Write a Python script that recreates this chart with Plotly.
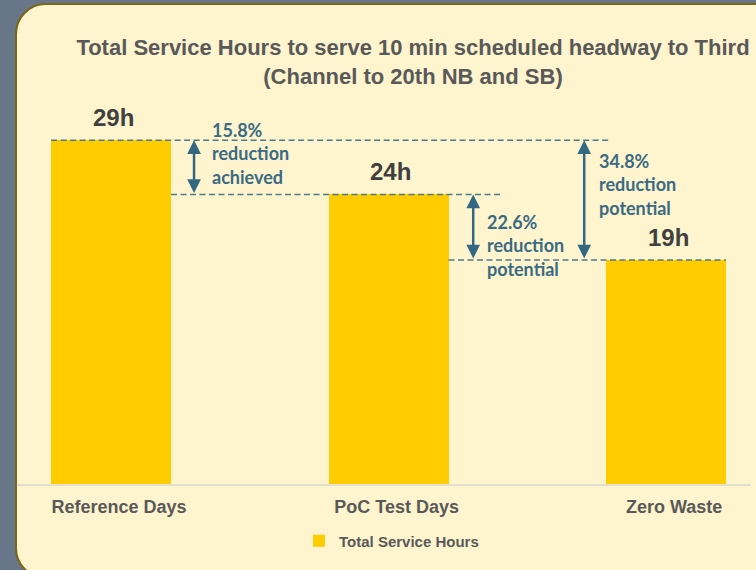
import plotly.graph_objects as go

# ---- data ----
categories = ["Reference Days", "PoC Test Days", "Zero Waste"]
service_hours = [29.0, 24.42, 18.9]
series_name = "Total Service Hours"
title_lines = ["Total Service Hours to serve 10 min scheduled headway to Third",
               "(Channel to 20th NB and SB)"]
reduction_words = ["reduction<br>achieved", "reduction<br>potential", "reduction<br>potential"]

W, H = 756, 570
def X(px):
    return px / W
def Y(py):
    return 1 - py / H

SLATE = "#677689"
CREAM = "#FEF5CE"
BORDER = "#7A6614"
YELLOW = "#FFCC00"
BLUE = "#3A6A84"
GREY = "#595959"

bar_w = 0.432

fig = go.Figure()
fig.add_trace(go.Bar(
    x=categories, y=service_hours, name=series_name,
    marker=dict(color=YELLOW, line=dict(width=0)),
    width=bar_w, showlegend=True, hoverinfo="skip",
))

# rounded panel
r = 30
k = 0.5523 * r
L, T, R_, B = 16, 4, 820, 578
path = (f"M {X(L)},{Y(T + r)} "
        f"C {X(L)},{Y(T + r - k)} {X(L + r - k)},{Y(T)} {X(L + r)},{Y(T)} "
        f"L {X(R_)},{Y(T)} L {X(R_)},{Y(B)} L {X(L + r)},{Y(B)} "
        f"C {X(L + r - k)},{Y(B)} {X(L)},{Y(B - r + k)} {X(L)},{Y(B - r)} Z")
shapes = [dict(type="path", xref="paper", yref="paper", path=path,
               fillcolor=CREAM, line=dict(color=BORDER, width=2), layer="below")]

ref, poc, zw = service_hours
# dashed guide lines (x in category units)
guides = [
    (0 - bar_w / 2, 1.791, ref),
    (0 + bar_w / 2, 1.402, poc),
    (1 + bar_w / 2, 2 + bar_w / 2, zw),
]
for x0, x1, yv in guides:
    shapes.append(dict(type="line", xref="x", yref="y", x0=x0, x1=x1, y0=yv, y1=yv,
                       line=dict(color="#4A7A8E", width=1.5, dash="6px,3.5px"),
                       layer="above"))

annotations = []
# arrows
arrows = [(0.299, ref, poc), (1.305, poc, zw), (1.705, ref, zw)]
for xa, ytop, ybot in arrows:
    annotations.append(dict(x=xa, y=ytop, ax=xa, ay=ybot, xref="x", yref="y",
                            axref="x", ayref="y", text="", showarrow=True,
                            arrowhead=2, arrowside="end+start", arrowsize=1.1,
                            arrowwidth=2.5, arrowcolor="#336882",
                            standoff=0, startstandoff=0))

# percentage labels
pcts = [1 - poc / ref, 1 - zw / poc, 1 - zw / ref]
label_pos = [(0.357, 27.9), (1.347, 20.15), (1.75, 25.3)]
for p, words, (xl, yl) in zip(pcts, reduction_words, label_pos):
    annotations.append(dict(x=xl, y=yl, xref="x", yref="y", xanchor="left",
                            yanchor="middle", align="left", showarrow=False,
                            text=f"{p * 100:.1f}%<br>{words}",
                            font=dict(family="Lato", size=18, color=BLUE, weight="bold")))

# value labels
for i, v in enumerate(service_hours):
    annotations.append(dict(x=i, y=v, xref="x", yref="y", yshift=22.5, xshift=2,
                            yanchor="middle", showarrow=False, text=f"{round(v)}h",
                            font=dict(family="Liberation Sans", size=24, color="#404040",
                                      weight="bold")))

fig.update_layout(
    width=W, height=H, autosize=False,
    margin=dict(l=0, r=0, t=0, b=0, pad=0),
    paper_bgcolor=SLATE, plot_bgcolor="rgba(0,0,0,0)",
    title=dict(text="<br>".join(title_lines), x=X(413), xref="paper", xanchor="center",
               y=Y(55), yref="container", yanchor="middle",
               font=dict(family="Liberation Sans", size=22, color=GREY, weight="bold")),
    xaxis=dict(domain=[X(17), X(751)], range=[-0.339, 2.306], type="category",
               showline=True, linecolor="#E3DED0", linewidth=2, showgrid=False,
               zeroline=False, ticks="", ticklabelstandoff=5, ticklabelshift=8,
               tickfont=dict(family="Liberation Sans", size=18, color=GREY, weight="bold")),
    yaxis=dict(domain=[1 - 484 / H, 1 - 69 / H], range=[0, 35], visible=False,
               showgrid=False, zeroline=False),
    legend=dict(orientation="h", x=X(299), xanchor="left", y=Y(541), yanchor="middle",
                itemwidth=30, bgcolor="rgba(0,0,0,0)",
                font=dict(family="Liberation Sans", size=15, color=GREY, weight="bold")),
    shapes=shapes, annotations=annotations, bargap=0,
)

fig.write_html("out.html", config={"displayModeBar": False},
               post_script="document.body.style.margin='0';")
